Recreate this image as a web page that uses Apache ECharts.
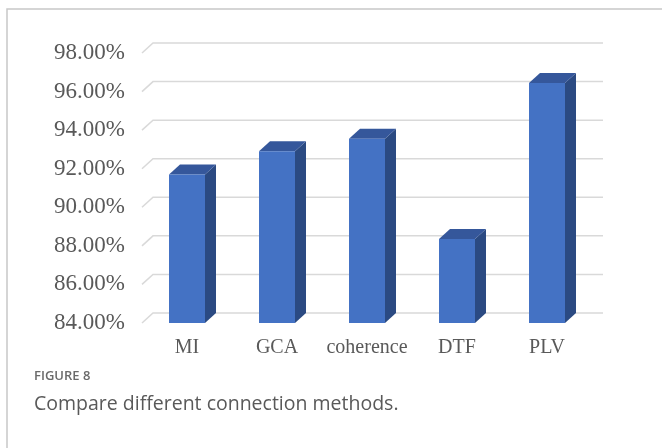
<!DOCTYPE html>
<html>
<head>
<meta charset="utf-8">
<script src="https://cdn.jsdelivr.net/npm/echarts@6/dist/echarts.min.js"></script>
<style>
html,body{margin:0;padding:0;background:#fff;}
#chart{width:662px;height:448px;}
</style>
</head>
<body>
<div id="chart"></div>
<script>
const categories = ['MI', 'GCA', 'coherence', 'DTF', 'PLV'];
const accuracy = [91.7, 92.9, 93.55, 88.35, 96.45];
const yTicks = [84, 86, 88, 90, 92, 94, 96, 98];
const yMin = 84, yMax = 98, yStep = 2;
const figureLabel = 'FIGURE 8';
const captionText = 'Compare different connection methods.';

const DX = 11, DY = -10;
const chart = echarts.init(document.getElementById('chart'), null, {renderer: 'canvas'});

const option = {
  backgroundColor: '#fff',
  animation: false,
  grid: {left: 142, right: 70, top: 53, bottom: 125, containLabel: false},
  xAxis: {
    type: 'category',
    data: categories,
    axisLine: {show: false},
    axisTick: {show: false},
    axisLabel: {interval: 0, fontFamily: 'Liberation Serif', fontSize: 20, color: '#595959', margin: 15}
  },
  yAxis: {
    type: 'value',
    min: yMin, max: yMax, interval: yStep,
    axisLine: {show: false},
    axisTick: {show: false},
    splitLine: {show: false},
    axisLabel: {
      fontFamily: 'Liberation Serif', fontSize: 23, color: '#595959', margin: 17,
      formatter: v => v.toFixed(2) + '%'
    }
  },
  graphic: [
    {type: 'polyline', shape: {points: [[7, 448], [7, 9], [662, 9]]}, style: {stroke: '#c8c8c8', lineWidth: 1.5, fill: null}},
    {type: 'text', left: 34, top: 370, style: {text: figureLabel, font: '600 13px "Open Sans"', fill: '#6a6a6a'}},
    {type: 'text', left: 34, top: 394, style: {text: captionText, font: '19.5px "Open Sans"', fill: '#595959'}}
  ],
  series: [
    {
      type: 'custom',
      z: 1,
      silent: true,
      data: yTicks.map(v => [0, v]),
      encode: {x: 0, y: 1},
      renderItem: function (params, api) {
        const cs = params.coordSys;
        const y = api.coord([0, api.value(1)])[1];
        const x0 = cs.x;
        return {
          type: 'polyline',
          shape: {points: [[x0, y], [x0 + DX, y + DY], [x0 + cs.width + DX, y + DY]]},
          style: {stroke: '#d9d9d9', lineWidth: 1.5, fill: null}
        };
      }
    },
    {
      type: 'custom',
      z: 5,
      data: accuracy.map((v, i) => [i, v]),
      encode: {x: 0, y: 1},
      renderItem: function (params, api) {
        const idx = api.value(0);
        const top = api.coord([idx, api.value(1)]);
        const bot = api.coord([idx, yMin]);
        const bw = api.size([1, 0])[0] * 0.4;
        const xl = top[0] - bw / 2, xr = top[0] + bw / 2;
        const yt = top[1], yb = bot[1];
        return {
          type: 'group',
          children: [
            {type: 'polygon', shape: {points: [[xr, yt], [xr + DX, yt + DY], [xr + DX, yb + DY], [xr, yb]]}, style: {fill: '#2B4A82'}},
            {type: 'polygon', shape: {points: [[xl, yt], [xl + DX, yt + DY], [xr + DX, yt + DY], [xr, yt]]}, style: {fill: '#35579B'}},
            {type: 'rect', shape: {x: xl, y: yt, width: bw, height: yb - yt}, style: {fill: '#4472C4'}}
          ]
        };
      }
    }
  ]
};
chart.setOption(option);
</script>
</body>
</html>
